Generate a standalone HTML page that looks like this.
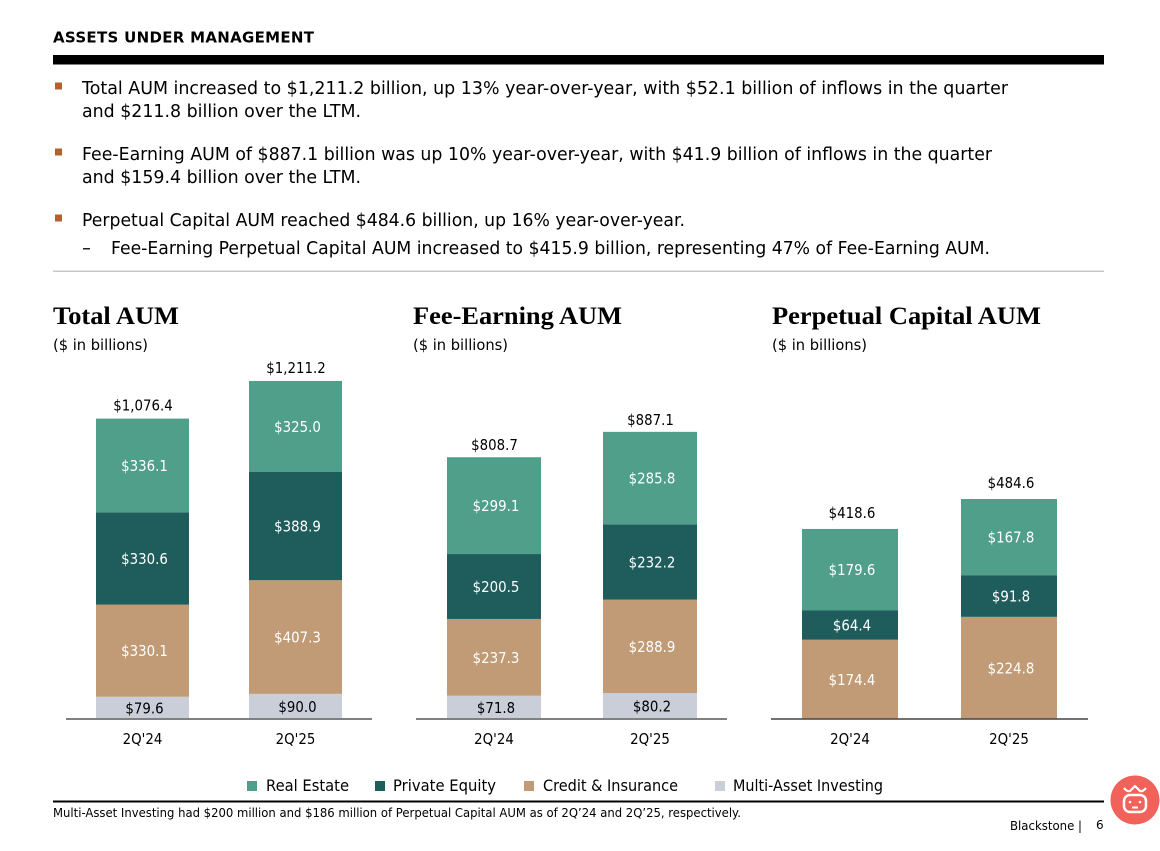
<!DOCTYPE html>
<html lang="en">
<head>
<meta charset="utf-8">
<title>Assets Under Management</title>
<style>
html,body{margin:0;padding:0;background:#fff;width:1160px;height:851px;overflow:hidden}
svg{display:block}
text{font-family:"DejaVu Sans","Liberation Sans",sans-serif;fill:#000}
.body{font-size:18px}
.serif{font-family:"Liberation Serif",serif;font-weight:700;font-size:25px}
.sub{font-size:15px}
.leg{font-size:16px}
</style>
</head>
<body>
<svg id="page" xmlns="http://www.w3.org/2000/svg" width="1160" height="851" viewBox="0 0 1160 851">
<rect x="0" y="0" width="1160" height="851" fill="#fff"/>
<text x="53" y="42.5" font-size="15" font-weight="700" textLength="261" lengthAdjust="spacing">ASSETS UNDER MANAGEMENT</text>
<rect x="53" y="55" width="1051" height="9.5" fill="#000"/>

<rect x="55" y="82.5" width="7" height="7" fill="#b5602f"/>
<text class="body" x="82" y="94" textLength="926" lengthAdjust="spacingAndGlyphs">Total AUM increased to $1,211.2 billion, up 13% year-over-year, with $52.1 billion of inflows in the quarter</text>
<text class="body" x="82" y="117" textLength="279" lengthAdjust="spacingAndGlyphs">and $211.8 billion over the LTM.</text>

<rect x="55" y="148.5" width="7" height="7" fill="#b5602f"/>
<text class="body" x="82" y="160" textLength="910" lengthAdjust="spacingAndGlyphs">Fee-Earning AUM of $887.1 billion was up 10% year-over-year, with $41.9 billion of inflows in the quarter</text>
<text class="body" x="82" y="183" textLength="279" lengthAdjust="spacingAndGlyphs">and $159.4 billion over the LTM.</text>

<rect x="55" y="214.5" width="7" height="7" fill="#b5602f"/>
<text class="body" x="82" y="226" textLength="603" lengthAdjust="spacingAndGlyphs">Perpetual Capital AUM reached $484.6 billion, up 16% year-over-year.</text>
<rect x="83" y="248" width="7" height="1.5" fill="#222"/>
<text class="body" x="111" y="254" textLength="879" lengthAdjust="spacingAndGlyphs">Fee-Earning Perpetual Capital AUM increased to $415.9 billion, representing 47% of Fee-Earning AUM.</text>
<rect x="53" y="270.5" width="1051" height="1.5" fill="#c8c8c8"/>

<text class="serif" x="53" y="324" textLength="126" lengthAdjust="spacingAndGlyphs">Total AUM</text>
<text class="sub" x="53" y="350" textLength="95" lengthAdjust="spacingAndGlyphs">($ in billions)</text>
<text class="serif" x="413" y="324" textLength="209" lengthAdjust="spacingAndGlyphs">Fee-Earning AUM</text>
<text class="sub" x="413" y="350" textLength="95" lengthAdjust="spacingAndGlyphs">($ in billions)</text>
<text class="serif" x="772" y="324" textLength="269" lengthAdjust="spacingAndGlyphs">Perpetual Capital AUM</text>
<text class="sub" x="772" y="350" textLength="95" lengthAdjust="spacingAndGlyphs">($ in billions)</text>

<g id="charts"></g>

<g>
<rect x="247" y="781" width="10" height="10" fill="#4f9f8b"/>
<text class="leg" x="266" y="791" textLength="83" lengthAdjust="spacingAndGlyphs">Real Estate</text>
<rect x="375" y="781" width="10" height="10" fill="#1f5c5c"/>
<text class="leg" x="393" y="791" textLength="103" lengthAdjust="spacingAndGlyphs">Private Equity</text>
<rect x="524" y="781" width="10" height="10" fill="#c19b76"/>
<text class="leg" x="543" y="791" textLength="135" lengthAdjust="spacingAndGlyphs">Credit &amp; Insurance</text>
<rect x="715" y="781" width="10" height="10" fill="#c9ced9"/>
<text class="leg" x="733" y="791" textLength="150" lengthAdjust="spacingAndGlyphs">Multi-Asset Investing</text>
</g>

<rect x="53" y="800.5" width="1051" height="2" fill="#000"/>
<text x="53" y="817" font-size="12" textLength="688" lengthAdjust="spacingAndGlyphs">Multi-Asset Investing had $200 million and $186 million of Perpetual Capital AUM as of 2Q’24 and 2Q’25, respectively.</text>
<text x="1010" y="830" font-size="12" textLength="72" lengthAdjust="spacingAndGlyphs">Blackstone |</text>
<text x="1096" y="829" font-size="12">6</text>

<g>
<circle cx="1135" cy="800" r="24.5" fill="#f1625a"/>
<rect x="1124" y="795" width="22" height="17" rx="6" fill="none" stroke="#fff" stroke-width="2.5"/>
<path d="M1124 788 Q1127 792 1130 791 L1135 786 L1140 791 Q1143 792 1146 788" fill="none" stroke="#fff" stroke-width="2.2" stroke-linejoin="round"/>
<rect x="1132" y="806.5" width="6" height="2" fill="#fff"/>
<circle cx="1130" cy="802" r="1.3" fill="#fff"/>
<circle cx="1140" cy="802" r="1.3" fill="#fff"/>
</g>
</svg>

<script>
const categories = ["2Q'24", "2Q'25"];
const seriesNames = ["multi-asset", "credit-insurance", "private-equity", "real-estate"];
const seriesColors = ["#c9ced9", "#c19b76", "#1f5c5c", "#4f9f8b"];

const totalMultiAsset = [79.6, 90.0];
const totalCredit = [330.1, 407.3];
const totalPrivateEquity = [330.6, 388.9];
const totalRealEstate = [336.1, 325.0];

const feeMultiAsset = [71.8, 80.2];
const feeCredit = [237.3, 288.9];
const feePrivateEquity = [200.5, 232.2];
const feeRealEstate = [299.1, 285.8];

const perpetualMultiAsset = [0.2, 0.186];
const perpetualCredit = [174.4, 224.8];
const perpetualPrivateEquity = [64.4, 91.8];
const perpetualRealEstate = [179.6, 167.8];

const NS = "http://www.w3.org/2000/svg";
const BASELINE = 719;
const CONDENSE = 0.89;
const charts = document.getElementById("charts");

function yScale(pxPerUnit) {
  return function (v) { return BASELINE - v * pxPerUnit; };
}
function xScale(first, step) {
  return function (i) { return first + i * step; };
}
function fmt(v) {
  const parts = v.toFixed(1).split(".");
  return "$" + parts[0].replace(/\B(?=(\d{3})+$)/g, ",") + "." + parts[1];
}
function label(parent, str, x, y, size, color) {
  const t = document.createElementNS(NS, "text");
  t.textContent = str;
  t.setAttribute("x", x);
  t.setAttribute("y", y);
  t.setAttribute("font-size", size);
  t.setAttribute("text-anchor", "middle");
  t.style.fill = color;
  parent.appendChild(t);
  t.setAttribute("lengthAdjust", "spacingAndGlyphs");
  t.setAttribute("textLength", (t.getComputedTextLength() * CONDENSE).toFixed(1));
  return t;
}
function drawPanel(panelName, stacks, x, y, barWidth, axisLeft, axisRight, axisThickness, axisColor, totalDx, totalGap) {
  const g = document.createElementNS(NS, "g");
  
  
  charts.appendChild(g);

  categories.forEach(function (cat, i) {
    let sum = 0;
    const cx = x(i);
    stacks.forEach(function (values, s) {
      const v = values[i];
      const yTop = y(sum + v);
      const yBottom = y(sum);
      const r = document.createElementNS(NS, "rect");
      
      
      r.setAttribute("x", cx - barWidth / 2);
      r.setAttribute("y", yTop);
      r.setAttribute("width", barWidth);
      r.setAttribute("height", yBottom - yTop);
      r.setAttribute("fill", seriesColors[s]);
      r.setAttribute("class", panelName + "-" + seriesNames[s]);
      g.appendChild(r);
      if (v >= 1) {
        const t = label(g, fmt(v), cx + 2, (yTop + yBottom) / 2 + 5.5, 15, s === 0 ? "#000" : "#fff");
        
        
      }
      sum += v;
    });
    const total = label(g, fmt(sum), cx + totalDx, y(sum) - totalGap, 15, "#000");
    
    
    const c = label(g, cat, cx, 744, 15, "#000");
    
    
  });

  const axis = document.createElementNS(NS, "rect");
  
  
  axis.setAttribute("x", axisLeft);
  axis.setAttribute("y", BASELINE - axisThickness / 2);
  axis.setAttribute("width", axisRight - axisLeft);
  axis.setAttribute("height", axisThickness);
  axis.setAttribute("fill", axisColor);
  g.appendChild(axis);
}

drawPanel("total",
  [totalMultiAsset, totalCredit, totalPrivateEquity, totalRealEstate],
  xScale(142.5, 153), yScale(0.2791), 93, 66, 372, 2, "#808080", 0.5, 8);
drawPanel("fee",
  [feeMultiAsset, feeCredit, feePrivateEquity, feeRealEstate],
  xScale(494, 156), yScale(0.3237), 94, 416, 727, 2, "#808080", 0.5, 7);
drawPanel("perpetual",
  [perpetualMultiAsset, perpetualCredit, perpetualPrivateEquity, perpetualRealEstate],
  xScale(850, 159), yScale(0.454), 96, 771, 1088, 1.5, "#444", 2, 11);
</script>
</body>
</html>
